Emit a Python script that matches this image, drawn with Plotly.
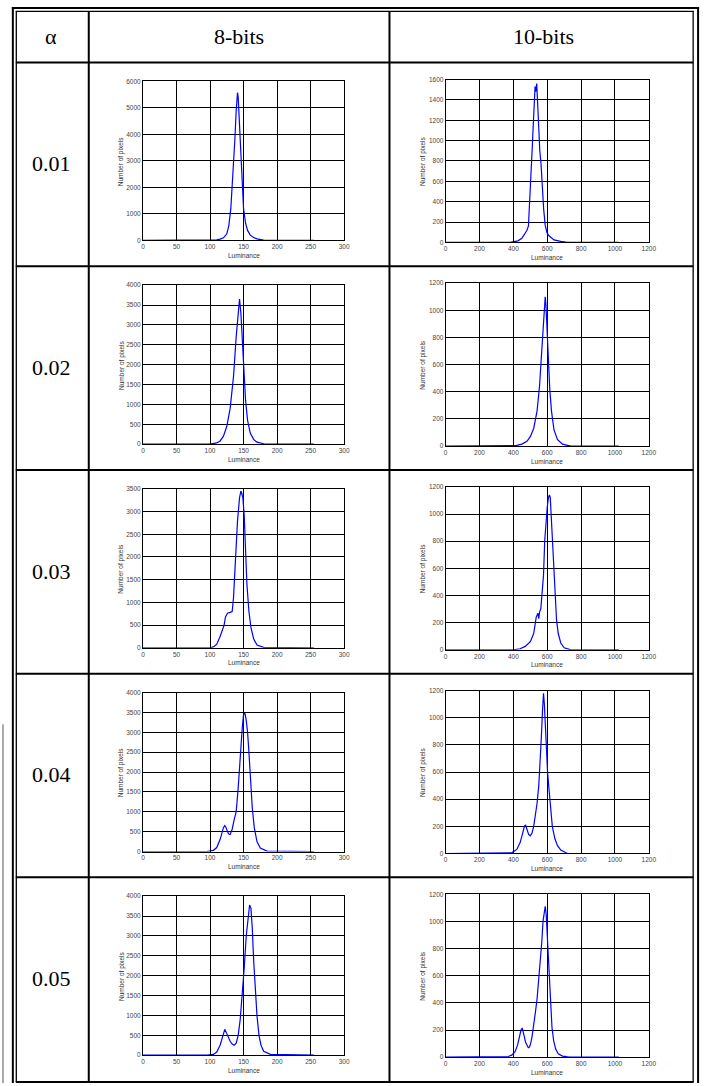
import plotly.graph_objects as go

W, H = 712, 1086

ALPHAS = ["0.01", "0.02", "0.03", "0.04", "0.05"]
HEADERS = ["α", "8-bits", "10-bits"]

X8_01 = [0, 100, 110, 115, 120, 125, 128, 131, 134, 137, 139, 141, 142, 144, 146, 148, 150, 153, 156, 160, 165, 170, 180, 190, 255]
Y8_01 = [0, 0, 20, 50, 100, 250, 560, 1200, 2300, 3800, 4900, 5580, 5400, 4300, 3000, 1900, 1200, 650, 380, 200, 110, 60, 15, 0, 0]

X8_02 = [0, 100, 110, 115, 120, 125, 130, 135, 139, 142, 144, 146, 148, 150, 153, 156, 160, 165, 170, 180, 255]
Y8_02 = [0, 0, 30, 80, 200, 450, 900, 1700, 2700, 3400, 3650, 3300, 2600, 1900, 1100, 600, 280, 120, 50, 10, 0]

X8_03 = [0, 100, 105, 110, 115, 118, 121, 123, 126, 130, 133, 135, 138, 141, 144, 146, 147, 149, 151, 153, 155, 158, 161, 165, 170, 180, 255]
Y8_03 = [0, 0, 20, 80, 250, 400, 500, 680, 760, 780, 800, 1100, 2100, 2800, 3300, 3450, 3420, 3300, 2900, 2100, 1400, 800, 450, 200, 60, 10, 0]

X8_04 = [0, 95, 105, 110, 115, 118, 120, 122, 124, 126, 128, 130, 133, 136, 139, 142, 145, 148, 150, 152, 154, 156, 158, 160, 163, 166, 170, 175, 185, 255]
Y8_04 = [0, 0, 30, 100, 300, 480, 600, 650, 600, 500, 440, 430, 560, 800, 1000, 1600, 2500, 3100, 3450, 3480, 3300, 3000, 2500, 1800, 1100, 600, 250, 90, 10, 0]

X8_05 = [0, 95, 105, 110, 115, 118, 120, 122, 124, 127, 130, 133, 136, 139, 142, 145, 148, 151, 154, 157, 159, 161, 163, 165, 167, 170, 173, 176, 180, 190, 255]
Y8_05 = [0, 0, 20, 80, 250, 450, 580, 650, 580, 450, 350, 280, 250, 300, 500, 900, 1500, 2200, 3000, 3600, 3780, 3700, 3200, 2400, 1700, 1000, 500, 250, 100, 20, 0]

X10_01 = [0, 380, 427, 450, 466, 480, 489, 497, 505, 512, 516, 520, 524, 528, 532, 535, 538, 541, 544, 548, 552, 556, 563, 570, 579, 588, 598, 610, 621, 640, 680, 720, 1023]
Y10_01 = [0, 0, 16, 40, 81, 120, 163, 400, 748, 950, 1105, 1250, 1430, 1530, 1480, 1550, 1560, 1450, 1300, 1150, 1000, 900, 780, 550, 325, 170, 98, 65, 49, 25, 10, 0, 0]

X10_02 = [0, 380, 420, 450, 480, 500, 520, 540, 555, 565, 575, 582, 588, 592, 598, 605, 615, 625, 640, 660, 690, 740, 1023]
Y10_02 = [0, 0, 5, 15, 35, 70, 130, 260, 450, 650, 850, 1000, 1100, 1050, 880, 650, 420, 260, 120, 50, 15, 0, 0]

X10_03 = [0, 400, 440, 470, 500, 520, 535, 545, 550, 555, 562, 570, 578, 585, 592, 600, 607, 613, 618, 623, 630, 638, 645, 655, 665, 680, 700, 740, 1023]
Y10_03 = [0, 0, 8, 25, 60, 120, 240, 270, 230, 280, 300, 420, 550, 800, 950, 1050, 1120, 1140, 1120, 1000, 780, 560, 380, 220, 120, 50, 15, 0, 0]

X10_04 = [0, 350, 390, 420, 440, 455, 465, 472, 480, 490, 500, 510, 520, 530, 540, 550, 558, 565, 572, 578, 583, 588, 595, 602, 610, 620, 630, 645, 660, 680, 720, 1023]
Y10_04 = [0, 0, 5, 30, 80, 150, 200, 210, 170, 140, 130, 150, 200, 280, 370, 500, 650, 850, 1050, 1180, 1100, 950, 780, 600, 480, 330, 200, 110, 60, 25, 0, 0]

X10_05 = [0, 330, 370, 390, 410, 425, 435, 445, 452, 458, 465, 472, 480, 488, 495, 502, 510, 520, 530, 540, 550, 560, 568, 575, 582, 588, 594, 600, 607, 614, 620, 628, 638, 650, 665, 690, 730, 1023]
Y10_05 = [0, 0, 5, 15, 40, 90, 150, 200, 215, 190, 150, 110, 85, 70, 75, 100, 150, 230, 330, 430, 560, 700, 850, 1000, 1080, 1110, 1050, 900, 700, 500, 350, 220, 120, 60, 25, 8, 0, 0]

CURVES8 = [(X8_01, Y8_01), (X8_02, Y8_02), (X8_03, Y8_03), (X8_04, Y8_04), (X8_05, Y8_05)]
CURVES10 = [(X10_01, Y10_01), (X10_02, Y10_02), (X10_03, Y10_03), (X10_04, Y10_04), (X10_05, Y10_05)]

Y8_MAX = [6000, 4000, 3500, 4000, 4000]
Y8_DTICK = [1000, 500, 500, 500, 500]
Y10_MAX = [1600, 1200, 1200, 1200, 1200]
Y10_DTICK = [200, 200, 200, 200, 200]
X8_TICKS = [0, 50, 100, 150, 200, 250, 300]
X10_TICKS = [0, 200, 400, 600, 800, 1000, 1200]

ROW_LINES = [59, 264, 469, 674, 879]
COL_LINES = [88, 393]


def px(x):
    return x / W


def py(y):
    return 1 - y / H


fig = go.Figure()

TICKFONT = dict(family="Liberation Sans, Arial, sans-serif", size=6.5, color="#444444")
TITLEFONT = dict(family="Liberation Sans, Arial, sans-serif", size=6.5, color="#333333")
SERIF = dict(family="Liberation Serif, Times New Roman, serif", size=22, color="black")

annotations = []
shapes = []

for r in range(5):
    top = ROW_LINES[r]
    for c, (curves, x0, x1, t_off, b_off, ymax, dtick, xticks, xmax) in enumerate([
        (CURVES8, 143, 347, 19, 179, Y8_MAX[r], Y8_DTICK[r], X8_TICKS, 300),
        (CURVES10, 450, 656, 17, 181, Y10_MAX[r], Y10_DTICK[r], X10_TICKS, 1200),
    ]):
        idx = r * 2 + c + 1
        xa = "x" if idx == 1 else f"x{idx}"
        ya = "y" if idx == 1 else f"y{idx}"
        xs, ys = curves[r]
        fig.add_trace(go.Scatter(x=xs, y=ys, mode="lines", xaxis=xa, yaxis=ya,
                                 line=dict(color="#0000ff", width=1.2), showlegend=False,
                                 hoverinfo="skip"))
        y_top = top + t_off
        y_bot = top + b_off
        axcommon = dict(showgrid=True, gridcolor="black", gridwidth=1, zeroline=False,
                        showline=True, mirror="ticks", linecolor="black", linewidth=1,
                        ticks="inside", ticklen=2, tickcolor="black", tickfont=TICKFONT)
        fig.update_layout(**{
            ("xaxis" if idx == 1 else f"xaxis{idx}"): dict(
                domain=[px(x0), px(x1)], anchor=ya, range=[0, xmax],
                tickvals=xticks, **axcommon),
            ("yaxis" if idx == 1 else f"yaxis{idx}"): dict(
                domain=[py(y_bot), py(y_top)], anchor=xa, range=[0, ymax],
                dtick=dtick, tick0=0, **axcommon),
        })
        annotations.append(dict(text="Luminance", xref="paper", yref="paper",
                                x=px((x0 + x1) / 2), y=py(y_bot + 15), showarrow=False,
                                font=TITLEFONT, xanchor="center", yanchor="middle"))
        annotations.append(dict(text="Number of pixels", xref="paper", yref="paper",
                                x=px(x0 - 22 if c == 0 else x0 - 23), y=py((y_top + y_bot) / 2),
                                textangle=-90, showarrow=False, font=TITLEFONT,
                                xanchor="center", yanchor="middle"))
    annotations.append(dict(text=ALPHAS[r], xref="paper", yref="paper", x=px(50),
                            y=py(top + 102), showarrow=False, font=SERIF,
                            xanchor="center", yanchor="middle"))

for text, xc in zip(HEADERS, [50, 240.5, 549]):
    annotations.append(dict(text=text, xref="paper", yref="paper", x=px(xc), y=py(33),
                            showarrow=False, font=SERIF, xanchor="center", yanchor="middle"))


def hline(y, x0, x1, w, color="black"):
    shapes.append(dict(type="line", xref="paper", yref="paper", x0=px(x0), x1=px(x1),
                       y0=py(y), y1=py(y), line=dict(color=color, width=w)))


def vline(x, y0, y1, w, color="black"):
    shapes.append(dict(type="line", xref="paper", yref="paper", x0=px(x), x1=px(x),
                       y0=py(y0), y1=py(y1), line=dict(color=color, width=w)))


vline(11, 3, 1086, 2)
vline(706, 3, 1086, 2)
hline(4, 10, 707, 2)
vline(14.5, 7, 1085, 1.3)
vline(701, 7, 1085, 1.3)
hline(7.5, 14, 701.5, 1.3)
hline(1085, 14, 701.5, 2)
for yl in ROW_LINES:
    hline(yl, 14, 701, 2)
for xl in COL_LINES:
    vline(xl, 7, 1085, 2)
# stray page-edge rule visible at the lower left of the source scan
vline(1, 725, 1086, 1, "#555555")

fig.update_layout(width=W, height=H, margin=dict(l=0, r=0, t=0, b=0),
                  paper_bgcolor="white", plot_bgcolor="white",
                  annotations=annotations, shapes=shapes)

fig.write_html(
    "out.html",
    config={"displayModeBar": False, "staticPlot": True},
    post_script=(
        "document.documentElement.style.cssText='margin:0;padding:0;overflow:hidden;"
        "width:712px;height:1086px;';"
        "document.body.style.cssText='margin:0;padding:0;overflow:hidden;"
        "width:712px;height:1086px;';"
        "var gd=document.getElementById('{plot_id}');"
        "gd.style.position='fixed';gd.style.left='0px';gd.style.top='0px';"
    ),
)
